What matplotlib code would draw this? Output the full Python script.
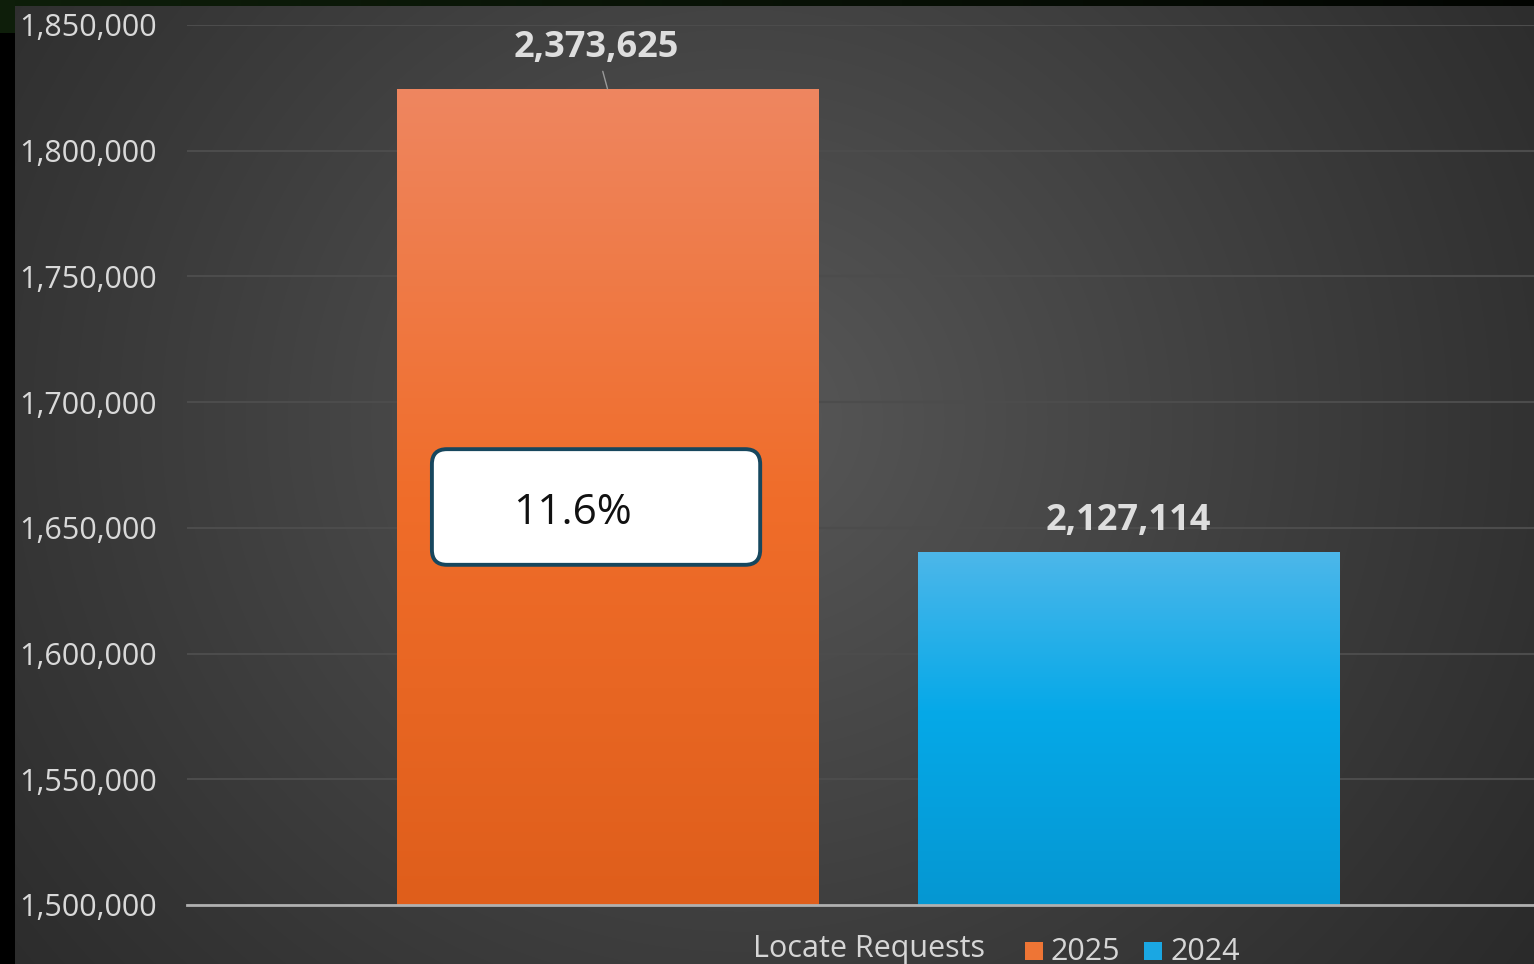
import numpy as np
import matplotlib.pyplot as plt
from matplotlib.colors import LinearSegmentedColormap
from matplotlib.patches import FancyBboxPatch, Rectangle

plt.rcParams['font.family'] = ['Open Sans', 'DejaVu Sans']

# data
years = ['2025', '2024']
bar_values = [1824600, 1640500]          # bar heights on the axis
label_values = [2373625, 2127114]        # numbers printed above the bars
change_pct = 11.6
category = 'Locate Requests'
y_ticks = [1500000, 1550000, 1600000, 1650000, 1700000, 1750000, 1800000, 1850000]

W, H = 1534, 964
fig = plt.figure(figsize=(W / 100, H / 100), dpi=100)

# background: dark panel with a soft radial light
yy, xx = np.mgrid[0:H, 0:W]
d = np.hypot(xx - 740, (yy - 420) * 1.05)
t = np.clip(d / 980, 0, 1)
v = (0x2a + (0x58 - 0x2a) * (1 - t) ** 1.05) / 255
img = np.dstack([v, v, v])
img[:, :15] = 0
fade = np.linspace(1, 0.15, W)
img[:6, :, 0] = 14 / 255 * fade
img[:6, :, 1] = 30 / 255 * fade
img[:6, :, 2] = 10 / 255 * fade
img[:33, :15] = [14 / 255, 30 / 255, 10 / 255]
bg = fig.add_axes([0, 0, 1, 1])
bg.imshow(img, aspect='auto', interpolation='bilinear')
bg.axis('off')

# main axes
ax = fig.add_axes([187 / W, 1 - 905 / H, 1 - 187 / W, (905 - 25) / H])
ax.set_facecolor('none')
x = np.arange(len(years))
width = 0.808
xlim = (-0.807, 1.778)
ylim = (y_ticks[0], y_ticks[-1])

bars = ax.bar(x, bar_values, width=width, color='none', zorder=2)

cmaps = [
    LinearSegmentedColormap.from_list('o', [(0, '#DF5E1B'), (0.5, '#F06D2A'), (1, '#EE8660')]),
    LinearSegmentedColormap.from_list('b', [(0, '#0597D2'), (0.55, '#06A9E8'), (1, '#4DB7EA')]),
]
grad = np.linspace(0, 1, 256).reshape(-1, 1)
for bar, cm in zip(bars, cmaps):
    x0, y0 = bar.get_x(), bar.get_y()
    im = ax.imshow(grad, extent=[x0, x0 + bar.get_width(), ylim[0], y0 + bar.get_height()],
                   origin='lower', aspect='auto', cmap=cm, zorder=2)
    im.set_clip_path(bar)

ax.set_xlim(*xlim)
ax.set_ylim(*ylim)
ax.set_xticks([])
ax.set_yticks(y_ticks)
ax.set_yticklabels([f'{v:,}' for v in y_ticks])
ax.tick_params(axis='y', length=0, pad=21.6, labelsize=22, labelcolor='#d9d9d9')
for s in ax.spines.values():
    s.set_visible(False)
ax.yaxis.grid(True, color='#4c4c4c', lw=1.5, zorder=1)
ax.set_axisbelow(True)
ax.axhline(ylim[0], color='#b0b0b0', lw=2, clip_on=False, zorder=3)

# data labels
ax.annotate(f'{label_values[0]:,}', xy=(x[0], bar_values[0]), xytext=(-8, 29.5),
            textcoords='offset points', ha='center', va='center', fontsize=26,
            fontweight='bold', color='#dedede',
            arrowprops=dict(arrowstyle='-', color='#9a9a9a', lw=1, shrinkA=2, shrinkB=0))
ax.annotate(f'{label_values[1]:,}', xy=(x[1], bar_values[1]), xytext=(0, 22),
            textcoords='offset points', ha='center', va='center', fontsize=26,
            fontweight='bold', color='#dedede')

# growth callout
fig.canvas.draw()
p0 = ax.transData.transform((0, 0))
p1 = ax.transData.transform((1, 1))
px_x = p1[0] - p0[0]
px_y = p1[1] - p0[1]
aspect = (1 / px_y) / (1 / px_x)
bx0, bx1 = -0.337, 0.293
by0, by1 = 1635300, 1681300
box = FancyBboxPatch((bx0, by0), bx1 - bx0, by1 - by0,
                     boxstyle=f'round,pad=0,rounding_size={15 / px_x}',
                     mutation_aspect=aspect, fc='white', ec='#17475e', lw=2.8, zorder=4)
ax.add_patch(box)
ax.text(-0.068, (by0 + by1) / 2 - 2200, f'{change_pct}%', ha='center', va='center',
        fontsize=30.5, color='#111111', zorder=5)

# legend / category
fig.text(753 / W, 1 - 957 / H, category, fontsize=22, color='#d6d6d6', va='baseline')
leg_cols = ['#EE7535', '#1AA7E3']
for i, (yr, c) in enumerate(zip(years, leg_cols)):
    sx = 1025 + i * 119
    fig.patches.append(Rectangle((sx / W, 1 - 960 / H), 18 / W, 18 / H,
                                 transform=fig.transFigure, fc=c, ec='none'))
    fig.text((sx + 26) / W, 1 - 960 / H, yr, fontsize=22, color='#d6d6d6', va='baseline')

fig.savefig('out.png', dpi=100)
